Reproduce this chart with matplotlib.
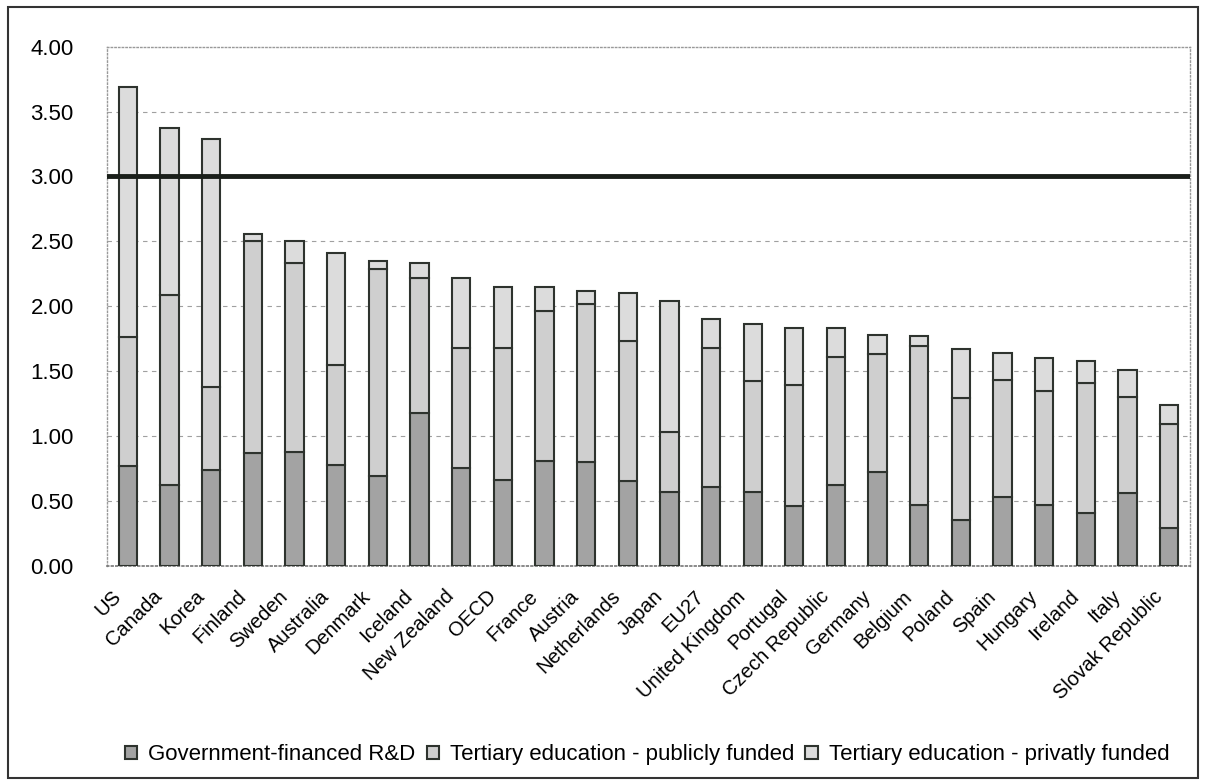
import matplotlib
matplotlib.use("Agg")
import matplotlib.pyplot as plt
import matplotlib.transforms as mtransforms
from matplotlib.patches import Rectangle
import numpy as np

plt.rcParams['font.family'] = ['Liberation Sans', 'DejaVu Sans']

countries = ['US', 'Canada', 'Korea', 'Finland', 'Sweden', 'Australia', 'Denmark',
             'Iceland', 'New Zealand', 'OECD', 'France', 'Austria', 'Netherlands',
             'Japan', 'EU27', 'United Kingdom', 'Portugal', 'Czech Republic',
             'Germany', 'Belgium', 'Poland', 'Spain', 'Hungary', 'Ireland', 'Italy',
             'Slovak Republic']

gov_rd = [0.77, 0.62, 0.74, 0.87, 0.88, 0.78, 0.69, 1.18, 0.75, 0.66, 0.81, 0.80, 0.65,
          0.57, 0.61, 0.57, 0.46, 0.62, 0.72, 0.47, 0.35, 0.53, 0.47, 0.41, 0.56, 0.29]
tert_public = [0.99, 1.47, 0.64, 1.63, 1.45, 0.77, 1.60, 1.04, 0.93, 1.02, 1.15, 1.22, 1.08,
               0.46, 1.07, 0.85, 0.93, 0.99, 0.91, 1.22, 0.94, 0.90, 0.88, 1.00, 0.74, 0.80]
tert_private = [1.93, 1.28, 1.91, 0.06, 0.17, 0.86, 0.06, 0.11, 0.54, 0.47, 0.19, 0.10, 0.37,
                1.01, 0.22, 0.44, 0.44, 0.22, 0.15, 0.08, 0.38, 0.21, 0.25, 0.17, 0.21, 0.15]

target = 3.0
yticks = [0.0, 0.5, 1.0, 1.5, 2.0, 2.5, 3.0, 3.5, 4.0]

fig = plt.figure(figsize=(12.05, 7.83), dpi=100)
fig.patch.set_facecolor('white')
ax = fig.add_axes([0.0888, 0.2775, 0.8988, 0.6629])

x = np.arange(len(countries))
bw = 0.44
edge = '#2e332e'
b1 = ax.bar(x, gov_rd, bw, color='#a3a3a3', edgecolor=edge, linewidth=1.5,
            label='Government-financed R&D', zorder=3)
b2 = ax.bar(x, tert_public, bw, bottom=gov_rd, color='#cfcfcf', edgecolor=edge,
            linewidth=1.5, label='Tertiary education - publicly funded', zorder=3)
bottom2 = np.array(gov_rd) + np.array(tert_public)
b3 = ax.bar(x, tert_private, bw, bottom=bottom2, color='#dcdcdc', edgecolor=edge,
            linewidth=1.5, label='Tertiary education - privatly funded', zorder=3)

# ligne objectif 3%
ax.axhline(target, color='#1a1f1a', linewidth=3.5, zorder=4)

ax.set_xlim(-0.5, len(countries) - 0.5)
ax.set_ylim(0, 4)
ax.set_yticks(yticks)
ax.set_yticklabels(['%.2f' % v for v in yticks], fontsize=16)
ax.tick_params(axis='y', length=0, pad=24)
ax.tick_params(axis='x', length=0, pad=20)
ax.set_xticks(x)
ax.set_xticklabels(countries, rotation=45, ha='right', va='center',
                   rotation_mode='anchor', fontsize=14.5)

# decaler un peu les etiquettes vers la gauche
decal = mtransforms.ScaledTranslation(-10 / 100, 0, fig.dpi_scale_trans)
for lab in ax.get_xticklabels():
    lab.set_transform(lab.get_transform() + decal)

for v in yticks[1:-1]:
    ax.axhline(v, color='#a0a0a0', linewidth=0.8, linestyle=(0, (4, 4)), zorder=1)

for s in ['left', 'top', 'right']:
    ax.spines[s].set_color('#999999')
    ax.spines[s].set_linestyle(':')
    ax.spines[s].set_linewidth(1)
ax.spines['bottom'].set_color('#777777')
ax.spines['bottom'].set_linestyle(':')
ax.spines['bottom'].set_linewidth(1.2)

fig.legend(handles=[b1, b2, b3], loc='center', bbox_to_anchor=(0.537, 0.036), ncol=3,
           frameon=False, fontsize=16, handlelength=0.55, handleheight=0.55,
           handletextpad=0.5, columnspacing=0.5)

# cadre autour du graphique
fig.patches.append(Rectangle((0.007, 0.006), 0.987, 0.985, transform=fig.transFigure,
                             fill=False, edgecolor='#333333', linewidth=1.5))

fig.savefig('out.png', dpi=100)
